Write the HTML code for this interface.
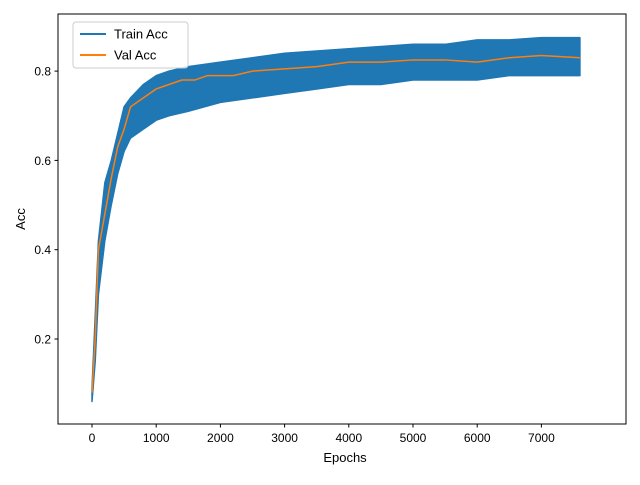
<!DOCTYPE html>
<html><head><meta charset="utf-8"><style>
body{margin:0;background:#fff;font-family:"Liberation Sans","DejaVu Sans",sans-serif}
</style></head><body>
<svg id="chart" width="640" height="480" xmlns="http://www.w3.org/2000/svg">
<rect width="640" height="480" fill="#fff"/>
<g id="plot"></g>
<rect x="58" y="14" width="568" height="410" fill="none" stroke="#000" stroke-width="1"/>
<g id="xt" font-size="12" text-anchor="middle"></g>
<g id="yt" font-size="12" text-anchor="end"></g>
<text x="345" y="462" font-size="13" text-anchor="middle">Epochs</text>
<text x="25" y="219" font-size="13" text-anchor="middle" transform="rotate(-90 25 219)">Acc</text>
<g>
<rect x="73" y="22" width="115" height="46" rx="3" fill="#fff" fill-opacity="0.8" stroke="#ccc"/>
<g><line x1="80" y1="34" x2="106" y2="34" stroke="#1f77b4" stroke-width="2"/><text x="114" y="38.5" font-size="13">Train Acc</text></g>
<g><line x1="80" y1="55" x2="106" y2="55" stroke="#ff7f0e" stroke-width="2"/><text x="114" y="59.5" font-size="13">Val Acc</text></g>
</g>
</svg>
<script>
const trainEpochs=[0,50,100,200,300,400,500,600,800,1000,1200,1500,2000,2500,3000,3500,4000,4500,5000,5500,6000,6500,7000,7600];
const trainLow=[0.06,0.15,0.3,0.42,0.5,0.57,0.62,0.65,0.67,0.69,0.70,0.71,0.73,0.74,0.75,0.76,0.77,0.77,0.78,0.78,0.78,0.79,0.79,0.79];
const trainHigh=[0.09,0.25,0.42,0.55,0.6,0.66,0.72,0.74,0.77,0.79,0.80,0.81,0.82,0.83,0.84,0.845,0.85,0.855,0.86,0.86,0.87,0.87,0.875,0.875];
const valEpochs=[0,50,100,200,300,400,500,600,700,800,1000,1200,1400,1600,1800,2000,2200,2500,3000,3500,4000,4500,5000,5500,6000,6500,7000,7600];
const valAcc=[0.08,0.2,0.4,0.48,0.56,0.63,0.67,0.72,0.73,0.74,0.76,0.77,0.78,0.78,0.79,0.79,0.79,0.80,0.805,0.81,0.82,0.82,0.825,0.825,0.82,0.83,0.835,0.83];
const xTicks=[0,1000,2000,3000,4000,5000,6000,7000];
const yTicks=[0.2,0.4,0.6,0.8];
const NS="http://www.w3.org/2000/svg";
const X=v=>92+v*0.0642;
const Y=v=>339-(v-0.2)*446.5;
const plot=document.getElementById('plot');
function mk(t,a,p){const e=document.createElementNS(NS,t);for(const k in a)e.setAttribute(k,a[k]);(p||plot).appendChild(e);return e;}
let pts=trainEpochs.map((e,i)=>X(e)+','+Y(trainHigh[i]));
for(let i=trainEpochs.length-1;i>=0;i--)pts.push(X(trainEpochs[i])+','+Y(trainLow[i]));
const band=mk('polygon',{points:pts.join(' '),fill:'#1f77b4',stroke:'#1f77b4','stroke-width':1.5,'stroke-linejoin':'round'});


const val=mk('polyline',{points:valEpochs.map((e,i)=>X(e)+','+Y(valAcc[i])).join(' '),fill:'none',stroke:'#ff7f0e','stroke-width':1.5});


const xt=document.getElementById('xt'),yt=document.getElementById('yt');
xTicks.forEach(t=>{mk('line',{x1:X(t),x2:X(t),y1:424,y2:427.5,stroke:'#000'},xt);const s=mk('text',{x:X(t),y:442},xt);s.textContent=t;

});
yTicks.forEach(t=>{mk('line',{x1:54.5,x2:58,y1:Y(t),y2:Y(t),stroke:'#000'},yt);const s=mk('text',{x:51,y:Y(t)+4.5},yt);s.textContent=t.toFixed(1);

});
</script>
</body></html>
